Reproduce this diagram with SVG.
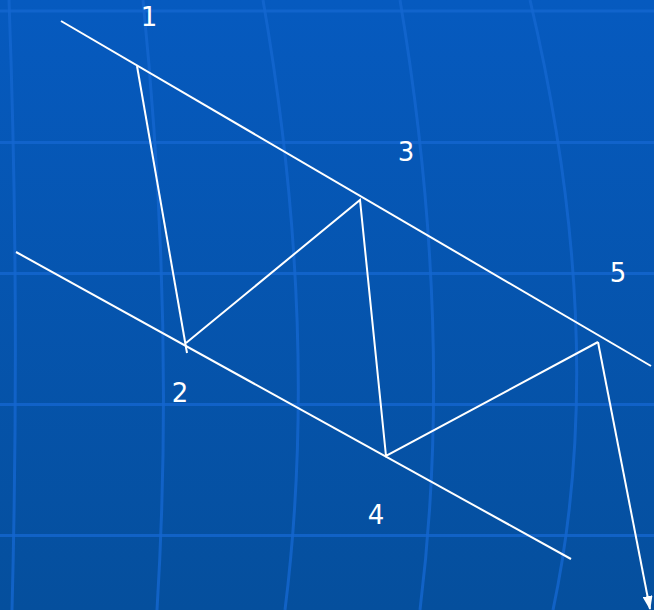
<svg xmlns="http://www.w3.org/2000/svg" width="654" height="610" viewBox="0 0 654 610">
  <defs>
    <linearGradient id="bg" x1="0" y1="0" x2="0" y2="1">
      <stop offset="0" stop-color="#065abf"/>
      <stop offset="1" stop-color="#054f9d"/>
    </linearGradient>
    <marker id="arrow" viewBox="0 0 14 10" refX="13" refY="5" markerWidth="14" markerHeight="10" markerUnits="userSpaceOnUse" orient="auto">
      <path d="M0,0 L14,5 L0,10 Z" fill="#ffffff"/>
    </marker>
    <style>
      .grid { stroke: #1466d0; stroke-width: 3; fill: none; opacity: 0.8; }
      .ln { stroke: #ffffff; stroke-width: 2; fill: none; }
      .lbl { font-family: "DejaVu Sans", Verdana, sans-serif; font-size: 26px; fill: #ffffff; text-anchor: middle; }
    </style>
  </defs>
  <rect width="654" height="610" fill="url(#bg)"/>
  <g id="grid">
    <line class="grid" x1="0" y1="11" x2="654" y2="11"/>
    <line class="grid" x1="0" y1="142.5" x2="654" y2="142.5"/>
    <line class="grid" x1="0" y1="273.5" x2="654" y2="273.5"/>
    <line class="grid" x1="0" y1="404.5" x2="654" y2="404.5"/>
    <line class="grid" x1="0" y1="535.5" x2="654" y2="535.5"/>
    <path class="grid" d="M9,0 Q20,300 12,610"/>
    <path class="grid" d="M143,0 Q175,320 157,610"/>
    <path class="grid" d="M263,0 Q320,330 285,610"/>
    <path class="grid" d="M400,0 Q455,330 420,610"/>
    <path class="grid" d="M530,0 Q610,340 553,610"/>
  </g>
  <g id="channel-top"><line class="ln" x1="61" y1="21" x2="651" y2="366"/></g>
  <g id="channel-bottom"><line class="ln" x1="16" y1="252" x2="571" y2="559"/></g>
  <g id="connectors">
    <polyline class="ln" points="137,66 187,353"/>
    <polyline class="ln" points="186,343 360,200 386,456 598,342"/>
    <line class="ln" x1="598" y1="342" x2="650" y2="609" marker-end="url(#arrow)"/>
  </g>
  <g id="label-1"><text class="lbl" x="149" y="26">1</text></g>
  <g id="label-2"><text class="lbl" x="180" y="402">2</text></g>
  <g id="label-3"><text class="lbl" x="406" y="161">3</text></g>
  <g id="label-4"><text class="lbl" x="376" y="524">4</text></g>
  <g id="label-5"><text class="lbl" x="618" y="282">5</text></g>
</svg>
